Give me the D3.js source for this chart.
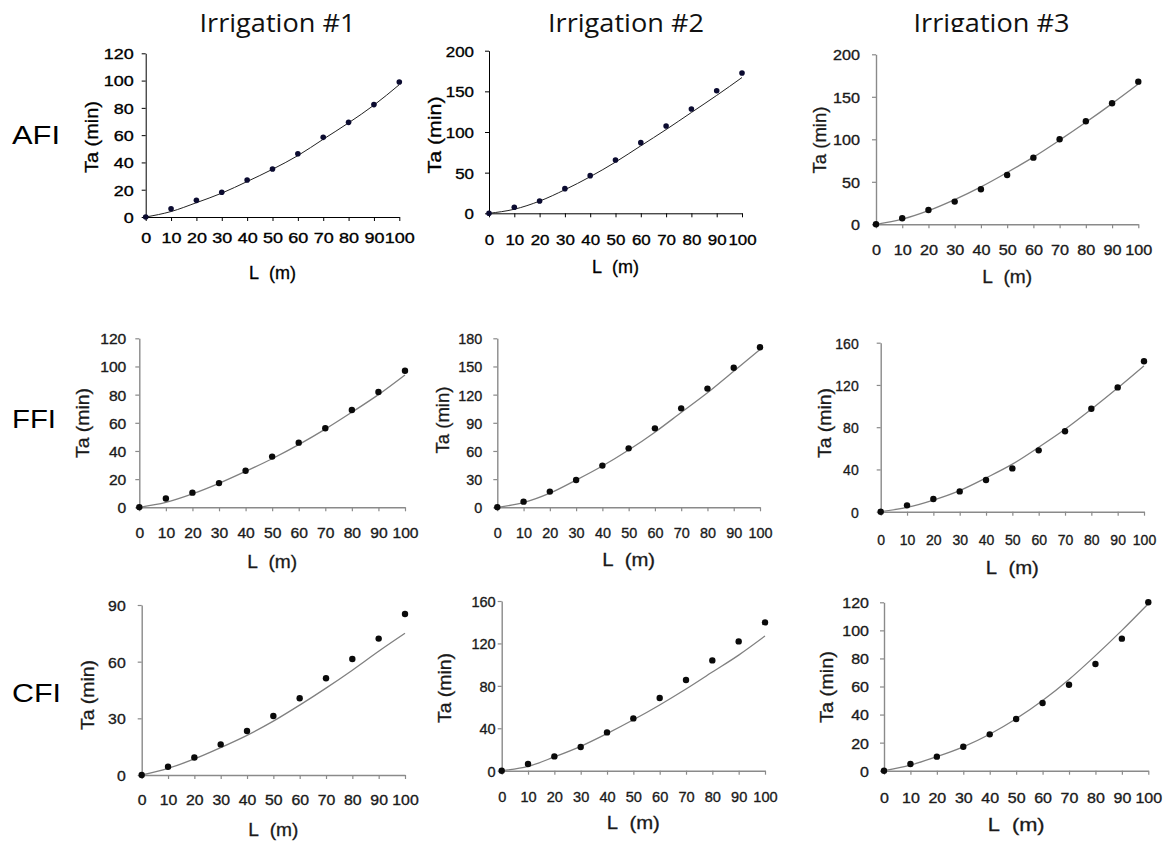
<!DOCTYPE html>
<html>
<head>
<meta charset="utf-8">
<script src="https://cdn.jsdelivr.net/npm/d3@7"></script>
<style>
  body { margin: 0; background: #fff; }
  svg { display: block; font-family: "Liberation Sans", Arial, sans-serif; }
</style>
</head>
<body>
<script>
// advance length L (m) - same for every panel
const lengths = [0, 10, 20, 30, 40, 50, 60, 70, 80, 90, 100];

const afi1Obs = [0, 6.1, 12.2, 18.1, 27.1, 35.2, 46.4, 58.4, 69.4, 82.4, 99.0];
const afi2Obs = [0, 7.4, 15.2, 30.3, 46.3, 65.6, 86.9, 107.4, 128.3, 150.8, 172.5];
const afi3Obs = [0, 7.1, 16.9, 26.7, 41.2, 58.0, 78.4, 100.0, 121.2, 142.4, 167.8];
const ffi1Obs = [0, 6.2, 10.4, 17.2, 26.0, 36.0, 45.9, 56.1, 69.1, 81.9, 97.0];
const ffi2Obs = [0, 6.0, 16.7, 29.1, 44.4, 62.8, 84.1, 105.4, 126.4, 148.7, 170.4];
const ffi3Obs = [0, 6.0, 12.0, 19.2, 30.0, 41.0, 58.1, 76.1, 97.5, 117.7, 142.4];
const cfi1Obs = [0, 4.4, 9.3, 16.2, 23.3, 31.2, 40.6, 51.2, 61.4, 72.2, 85.2];
const cfi2Obs = [0, 6.3, 13.5, 22.3, 36.1, 49.3, 68.5, 85.5, 104.0, 121.9, 139.8];
const cfi3Obs = [0, 4.8, 10.0, 17.1, 25.9, 36.8, 48.2, 61.3, 76.0, 94.1, 120.0];

// fitted curve at the same lengths
const afi1Fit = [0, 4, 10.5, 17.5, 26, 35, 45, 57, 69, 82, 97];
const afi2Fit = [0, 5, 15, 29, 45, 63, 83, 103, 124, 145, 167];
const afi3Fit = [0, 6, 16, 29, 44, 61, 79, 99, 120, 142, 165];
const ffi1Fit = [0, 3.5, 9.5, 17, 25.5, 34.5, 44.5, 55.5, 67.5, 80, 94];
const ffi2Fit = [0, 5, 15, 29, 44, 61, 80, 101, 122, 145, 168];
const ffi3Fit = [0, 4, 11, 20, 32, 45, 61, 78, 97, 117, 138];
const cfi1Fit = [0, 3.5, 8.5, 14.5, 21, 28.5, 37, 46, 55.5, 65.5, 75];
const cfi2Fit = [0, 4, 13, 23, 35, 48, 62, 77, 93, 109, 127];
const cfi3Fit = [0, 4, 10, 17, 26, 37, 50, 65, 82, 100, 119];

// y tick values
const ticks120 = [0, 20, 40, 60, 80, 100, 120];
const ticks200 = [0, 50, 100, 150, 200];
const ticks180 = [0, 30, 60, 90, 120, 150, 180];
const ticks160 = [0, 40, 80, 120, 160];
const ticks90 = [0, 30, 60, 90];

const titles = ["Irrigation #1", "Irrigation #2", "Irrigation #3"];
const methods = ["AFI", "FFI", "CFI"];

const W = 1172, H = 845;

// panel layout (pixel boxes of each small chart); dw = width of one digit
const panels = [
  {obs: afi1Obs, fit: afi1Fit, ticks: ticks120, x0: 145.7, x1: 399.3, yTop: 53.3, yBot: 217, tickOff: 21, yGap: 12, taX: 92, taY: 137, taLen: 72, lY: 273, lLen: 47, dw: 10, dark: true},
  {obs: afi2Obs, fit: afi2Fit, ticks: ticks200, x0: 489, x1: 742, yTop: 50.7, yBot: 213.3, tickOff: 26.5, yGap: 15, taX: 435, taY: 135, taLen: 77, lY: 267, lLen: 47, dw: 9.4, dark: true},
  {obs: afi3Obs, fit: afi3Fit, ticks: ticks200, x0: 876, x1: 1138.3, yTop: 54.3, yBot: 224.3, tickOff: 25.7, yGap: 16, taX: 820, taY: 140, taLen: 67, lY: 277, lLen: 50, dw: 9, dark: false},
  {obs: ffi1Obs, fit: ffi1Fit, ticks: ticks120, x0: 139.3, x1: 405, yTop: 338.3, yBot: 507.3, tickOff: 25.7, yGap: 13, taX: 83, taY: 423, taLen: 70, lY: 562, lLen: 50, dw: 8.7, dark: false},
  {obs: ffi2Obs, fit: ffi2Fit, ticks: ticks180, x0: 497.3, x1: 760, yTop: 338.3, yBot: 507.3, tickOff: 25.7, yGap: 15, taX: 443, taY: 420, taLen: 67, lY: 560, lLen: 53, dw: 8, dark: false},
  {obs: ffi3Obs, fit: ffi3Fit, ticks: ticks160, x0: 880.7, x1: 1144, yTop: 342.7, yBot: 511.7, tickOff: 28.3, yGap: 22, taX: 825, taY: 423, taLen: 70, lY: 568, lLen: 53, dw: 7.8, dark: false},
  {obs: cfi1Obs, fit: cfi1Fit, ticks: ticks90, x0: 141.7, x1: 405, yTop: 605, yBot: 775, tickOff: 25, yGap: 16, taX: 88, taY: 695, taLen: 70, lY: 830, lLen: 50, dw: 8.8, dark: false},
  {obs: cfi2Obs, fit: cfi2Fit, ticks: ticks160, x0: 501.7, x1: 765, yTop: 601, yBot: 770.7, tickOff: 26, yGap: 6, taX: 445, taY: 688, taLen: 70, lY: 823, lLen: 53, dw: 8.1, dark: false},
  {obs: cfi3Obs, fit: cfi3Fit, ticks: ticks120, x0: 884, x1: 1148.3, yTop: 602.3, yBot: 770.7, tickOff: 27.3, yGap: 15, taX: 826.7, taY: 687, taLen: 72, lY: 825, lLen: 57, dw: 8.9, dark: false}
];

const svg = d3.select("body").append("svg")
  .attr("width", W)
  .attr("height", H);

// tick labels are stretched in the source picture: fix width per digit
function digitWidth(sel, dw) {
  sel.each(function() {
    const n = this.textContent.length;
    d3.select(this).attr("textLength", n * dw).attr("lengthAdjust", "spacingAndGlyphs");
  });
}

// column titles
const titleX = [277.5, 626, 991.5];
const defs = svg.append("defs");
defs.append("clipPath").attr("id", "clipTitle3")
  .append("rect").attr("x", 880).attr("y", 0).attr("width", 250).attr("height", 32);

titles.forEach((t, i) => {
  svg.append("text")
    .attr("x", titleX[i])
    .attr("y", 31.5)
    .attr("text-anchor", "middle")
    .attr("font-family", "'Open Sans', 'Liberation Sans', sans-serif")
    .attr("font-size", 25)
    .attr("fill", "#111")
    .attr("textLength", 156)
    .attr("lengthAdjust", "spacingAndGlyphs")
    .attr("clip-path", i === 2 ? "url(#clipTitle3)" : null)
    .text(t);
});

// row labels
const methodY = [144, 428, 702];
const methodW = [48, 44, 49];
methods.forEach((m, i) => {
  svg.append("text")
    .attr("x", 12)
    .attr("y", methodY[i])
    .attr("font-size", 25)
    .attr("fill", "#000")
    .attr("textLength", methodW[i])
    .attr("lengthAdjust", "spacingAndGlyphs")
    .text(m);
});

panels.forEach((p) => {
  const ink = p.dark ? "#000" : "#1a1a1a";
  const axisCol = p.dark ? "#000" : "#8a8a8a";
  const lineCol = p.dark ? "#222" : "#808080";
  const dotCol = p.dark ? "#0b0b30" : "#0a0a0a";

  const x = d3.scaleLinear().domain([0, 100]).range([p.x0, p.x1]);
  const y = d3.scaleLinear().domain([0, d3.max(p.ticks)]).range([p.yBot, p.yTop]);

  const g = svg.append("g");

  // x axis
  const gx = g.append("g")
    .attr("transform", "translate(0," + p.yBot + ")")
    .call(d3.axisBottom(x).tickValues(lengths).tickSize(4).tickSizeOuter(0));
  gx.select(".domain").attr("stroke", axisCol).attr("stroke-width", p.dark ? 1 : 1.4);
  gx.selectAll(".tick line").attr("stroke", axisCol).attr("stroke-width", p.dark ? 1 : 1.2);
  gx.selectAll(".tick text")
    .attr("y", p.tickOff)
    .attr("dy", "0.36em")
    .attr("font-size", 15)
    .attr("font-family", "'Liberation Sans', Arial, sans-serif")
    .attr("fill", ink)
    .attr("stroke", ink)
    .attr("stroke-width", 0.35)
    .call(digitWidth, p.dw);

  // y axis
  const gy = g.append("g")
    .attr("transform", "translate(" + p.x0 + ",0)")
    .call(d3.axisLeft(y).tickValues(p.ticks).tickSize(4).tickSizeOuter(0));
  gy.select(".domain").attr("stroke", axisCol).attr("stroke-width", p.dark ? 1 : 1.4);
  gy.selectAll(".tick line").attr("stroke", axisCol).attr("stroke-width", p.dark ? 1 : 1.2);
  gy.selectAll(".tick text")
    .attr("x", -p.yGap)
    .attr("dy", "0.36em")
    .attr("font-size", 15)
    .attr("font-family", "'Liberation Sans', Arial, sans-serif")
    .attr("fill", ink)
    .attr("stroke", ink)
    .attr("stroke-width", 0.35)
    .call(digitWidth, p.dw);

  // fitted curve
  const line = d3.line()
    .x((d, i) => x(lengths[i]))
    .y((d) => y(d))
    .curve(d3.curveMonotoneX);

  g.append("path")
    .datum(p.fit)
    .attr("d", line)
    .attr("fill", "none")
    .attr("stroke", lineCol)
    .attr("stroke-width", p.dark ? 1 : 1.3);

  // observed points
  g.selectAll("circle")
    .data(p.obs)
    .enter()
    .append("circle")
    .attr("cx", (d, i) => x(lengths[i]))
    .attr("cy", (d) => y(d))
    .attr("r", p.dark ? 2.8 : 3.2)
    .attr("fill", dotCol);

  // axis titles
  g.append("text")
    .attr("transform", "translate(" + p.taX + "," + p.taY + ") rotate(-90)")
    .attr("text-anchor", "middle")
    .attr("dy", "0.36em")
    .attr("font-size", 18)
    .attr("fill", ink)
    .attr("stroke", ink)
    .attr("stroke-width", 0.3)
    .attr("textLength", p.taLen)
    .attr("lengthAdjust", "spacingAndGlyphs")
    .text("Ta (min)");

  g.append("text")
    .attr("x", (p.x0 + p.x1) / 2)
    .attr("y", p.lY)
    .attr("text-anchor", "middle")
    .attr("dy", "0.36em")
    .attr("font-size", 18)
    .attr("fill", ink)
    .attr("stroke", ink)
    .attr("stroke-width", 0.3)
    .attr("textLength", p.lLen)
    .attr("lengthAdjust", "spacingAndGlyphs")
    .text("L\u00a0\u00a0(m)");
});
</script>
</body>
</html>
